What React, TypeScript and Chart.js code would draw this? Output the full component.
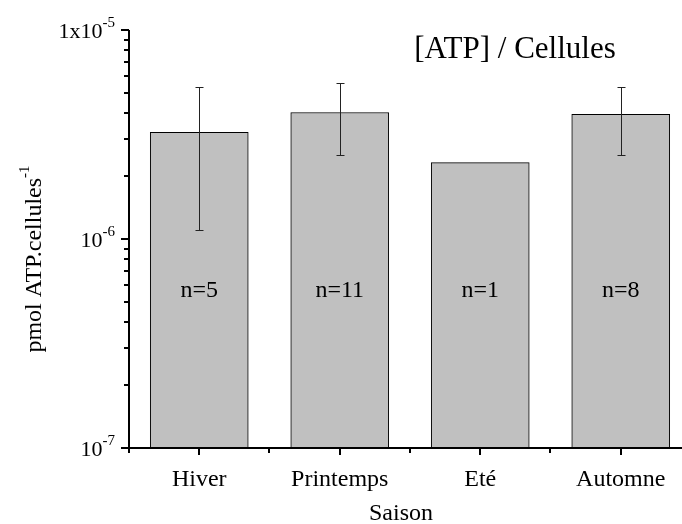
import React, { useEffect, useRef } from "react";
import { Chart, registerables } from "chart.js";
Chart.register(...registerables);

const seasons = ["Hiver", "Printemps", "Eté", "Automne"];
const atpMeans = [3.24e-6, 4.03e-6, 2.32e-6, 3.95e-6];
const errLow: (number | null)[] = [1.1e-6, 2.51e-6, null, 2.51e-6];
const errHigh: (number | null)[] = [5.36e-6, 5.56e-6, null, 5.36e-6];
const sampleSizes = [5, 11, 1, 8];
const yTickValues = [1e-7, 1e-6, 1e-5];
const yTickBases = ["10", "10", "1x10"];
const yTickExps = ["-7", "-6", "-5"];
const chartTitle = "[ATP] / Cellules";
const yTitleMain = "pmol ATP.cellules";
const yTitleExp = "-1";
const xTitle = "Saison";

const FONT = '"Liberation Serif", "Times New Roman", serif';

const drawPlugin = {
  id: "customDraw",
  afterDatasetsDraw(chart: any) {
    const ctx = chart.ctx as CanvasRenderingContext2D;
    const xs = chart.scales.x;
    const ys = chart.scales.y;
    const area = chart.chartArea;
    ctx.save();
    // error bars
    ctx.strokeStyle = "#222";
    ctx.lineWidth = 1;
    seasons.forEach((_, i) => {
      const lo = errLow[i];
      const hi = errHigh[i];
      if (lo == null || hi == null) return;
      const px = Math.round(xs.getPixelForValue(i)) + 0.5;
      const py1 = Math.round(ys.getPixelForValue(lo)) + 0.5;
      const py2 = Math.round(ys.getPixelForValue(hi)) + 0.5;
      ctx.beginPath();
      ctx.moveTo(px, py1);
      ctx.lineTo(px, py2);
      ctx.moveTo(px - 4, py1);
      ctx.lineTo(px + 4, py1);
      ctx.moveTo(px - 4, py2);
      ctx.lineTo(px + 4, py2);
      ctx.stroke();
    });
    // n labels
    ctx.fillStyle = "#000";
    ctx.font = `24px ${FONT}`;
    ctx.textAlign = "center";
    ctx.textBaseline = "alphabetic";
    seasons.forEach((_, i) => {
      ctx.fillText(`n=${sampleSizes[i]}`, xs.getPixelForValue(i), 297);
    });
    // axes
    ctx.strokeStyle = "#000";
    ctx.lineWidth = 2;
    ctx.beginPath();
    ctx.moveTo(area.left, area.top);
    ctx.lineTo(area.left, area.bottom);
    ctx.moveTo(area.left, area.bottom);
    ctx.lineTo(area.right, area.bottom);
    ctx.stroke();
    // y ticks
    ctx.beginPath();
    for (let e = -7; e <= -5; e++) {
      for (let m = 1; m <= 9; m++) {
        const v = m * Math.pow(10, e);
        if (e === -5 && m > 1) break;
        const py = Math.round(ys.getPixelForValue(v));
        const len = m === 1 ? 8 : 5;
        ctx.moveTo(area.left, py);
        ctx.lineTo(area.left - len, py);
      }
    }
    // x ticks
    for (let k = -1; k <= 7; k++) {
      const v = k / 2;
      const px = xs.getPixelForValue(v);
      if (px > area.right + 1) continue;
      const len = k % 2 === 0 ? 7 : 5;
      const rx = Math.round(px);
      ctx.moveTo(rx, area.bottom);
      ctx.lineTo(rx, area.bottom + len);
    }
    ctx.stroke();
    // y tick labels with superscripts
    ctx.textBaseline = "alphabetic";
    ctx.textAlign = "left";
    yTickValues.forEach((v, i) => {
      const py = ys.getPixelForValue(v);
      ctx.font = `15px ${FONT}`;
      const ew = ctx.measureText(yTickExps[i]).width;
      ctx.font = `22px ${FONT}`;
      const bw = ctx.measureText(yTickBases[i]).width;
      const right = area.left - 14;
      const x0 = right - ew - bw;
      ctx.fillText(yTickBases[i], x0, py + 8);
      ctx.font = `15px ${FONT}`;
      ctx.fillText(yTickExps[i], x0 + bw, py - 3);
    });
    // x tick labels
    ctx.font = `24px ${FONT}`;
    ctx.textAlign = "center";
    ctx.textBaseline = "alphabetic";
    seasons.forEach((s, i) => {
      ctx.fillText(s, xs.getPixelForValue(i), 486);
    });
    // x title
    ctx.fillText(xTitle, 401, 520);
    // chart title
    ctx.font = `31px ${FONT}`;
    ctx.fillText(chartTitle, 515, 58);
    // y title rotated
    ctx.translate(33, 259);
    ctx.rotate(-Math.PI / 2);
    ctx.font = `24px ${FONT}`;
    const mw = ctx.measureText(yTitleMain).width;
    ctx.font = `15px ${FONT}`;
    const sw = ctx.measureText(yTitleExp).width;
    const start = -(mw + sw) / 2;
    ctx.textAlign = "left";
    ctx.textBaseline = "alphabetic";
    ctx.font = `24px ${FONT}`;
    ctx.fillText(yTitleMain, start, 8);
    ctx.font = `15px ${FONT}`;
    ctx.fillText(yTitleExp, start + mw, -4);
    ctx.restore();
  },
};

export default function App() {
  const ref = useRef<HTMLCanvasElement | null>(null);
  useEffect(() => {
    document.body.style.margin = "0";
    if (!ref.current) return;
    const chart = new Chart(ref.current, {
      type: "bar",
      data: {
        datasets: [
          {
            data: seasons.map((_, i) => ({ x: i, y: atpMeans[i] })),
            backgroundColor: "#c0c0c0",
            borderColor: "#000",
            borderWidth: 1,
            barThickness: 98,
          },
        ],
      },
      options: {
        animation: false,
        responsive: false,
        devicePixelRatio: 1,
        layout: { padding: { left: 129, top: 30, right: 0, bottom: 76 } },
        plugins: { legend: { display: false }, tooltip: { enabled: false }, title: { display: false } },
        scales: {
          x: { type: "linear", min: -0.5, max: 3.436, offset: false, display: false },
          y: { type: "logarithmic", min: 1e-7, max: 1e-5, display: false },
        },
      },
      plugins: [drawPlugin],
    });
    return () => chart.destroy();
  }, []);
  return (
    <div style={{ width: 682, height: 524 }}>
      <canvas ref={ref} width={682} height={524} style={{ display: "block" }} />
    </div>
  );
}
